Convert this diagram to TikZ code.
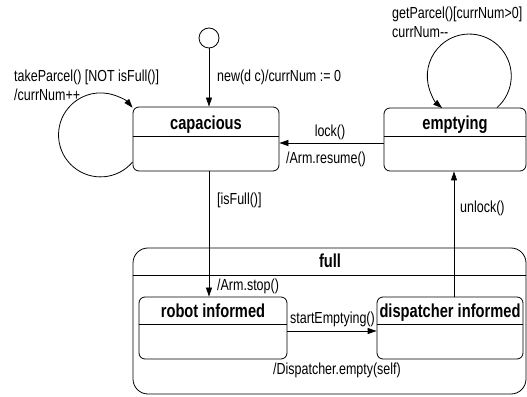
\documentclass[tikz,border=0pt]{standalone}
\usepackage{fontspec}
\setmainfont{Liberation Sans}[FakeStretch=0.78,Ligatures=NoCommon]
\usetikzlibrary{arrows.meta}
\begin{document}
\begin{tikzpicture}[x=1pt,y=1pt,
  lbl/.style={font=\fontsize{16}{19}\selectfont, inner sep=0pt},
  ttl/.style={font=\fontsize{18.8}{21}\selectfont\bfseries, inner sep=0pt, anchor=base},
  statebox/.style={draw, rounded corners=6pt, line width=0.8pt, inner sep=0pt},
  divider/.style={line width=0.8pt},
  conn/.style={line width=0.8pt, -{Triangle[length=9pt,width=6pt]}},
]
\useasboundingbox (0,0) rectangle (527,396);
% initial state
\node[circle, draw, line width=0.8pt, minimum size=20pt, inner sep=0pt] (init) at (209,358) {};
% states
\node[statebox, minimum width=146pt, minimum height=64pt] (cap) at (206,257) {};
\node[statebox, minimum width=142pt, minimum height=63pt] (emp) at (455,256.5) {};
\node[statebox, rounded corners=15pt, minimum width=393pt, minimum height=146pt] (full) at (329.5,75) {};
\node[statebox, minimum width=148pt, minimum height=62pt] (robot) at (213,68) {};
\node[statebox, minimum width=146pt, minimum height=62pt] (disp) at (450,68) {};
% dividers
\draw[divider] (cap.west |- 0,260) -- (cap.east |- 0,260);
\draw[divider] (emp.west |- 0,260) -- (emp.east |- 0,260);
\draw[divider] (full.west |- 0,121) -- (full.east |- 0,121);
\draw[divider] (robot.west |- 0,72) -- (robot.east |- 0,72);
\draw[divider] (disp.west |- 0,72) -- (disp.east |- 0,72);
% titles
\node[ttl] (tcap) at (206,266) {capacious};
\node[ttl] (temp) at (455,266) {emptying};
\node[ttl] (tfull) at (330,128) {full};
\node[ttl] (trobot) at (213,78) {robot informed};
\node[ttl] (tdisp) at (450,78) {dispatcher informed};
% connectors
\draw[conn] (init.south) -- (init.south |- cap.north);
\draw[conn] (init |- cap.south) -- (init |- robot.north);
\draw[conn] (emp.west |- 0,253) -- (cap.east |- 0,253);
\draw[conn] (robot.east |- 0,65) -- (disp.west |- 0,65);
\draw[conn] (disp.north -| 454,0) -- (emp.south -| 454,0);
\draw[conn] ([yshift=-23pt]cap.west) arc[start angle=-40.2, end angle=-319.8, radius=42pt];
\draw[conn] ([xshift=42pt]emp.north) arc[start angle=-48.7, end angle=229.7, radius=42pt];
% labels
\node[lbl, anchor=base west] (lnew) at (217,314) {new(d c)/currNum := 0};
\node[lbl, anchor=base west] (ltake1) at (14,314) {takeParcel() [NOT isFull()]};
\node[lbl, anchor=base west] (ltake2) at (14,295) {/currNum++};
\node[lbl, anchor=base west] (lget1) at (392,377) {getParcel()[currNum>0]};
\node[lbl, anchor=base west] (lget2) at (392,358) {currNum\mbox{-}\mbox{-}};
\node[lbl, anchor=base] (llock) at (330,259) {lock()};
\node[lbl, anchor=base] (lresume) at (326,232) {/Arm.resume()};
\node[lbl, anchor=base west] (lisfull) at (217,191) {[isFull()]};
\node[lbl, anchor=base west] (lunlock) at (460,183) {unlock()};
\node[lbl, anchor=base west] (lstop) at (217,105) {/Arm.stop()};
\node[lbl, anchor=base west] (lstart) at (290,72) {startEmptying()};
\node[lbl, anchor=base] (ldisp) at (337,22) {/Dispatcher.empty(self)};
\end{tikzpicture}
\end{document}
